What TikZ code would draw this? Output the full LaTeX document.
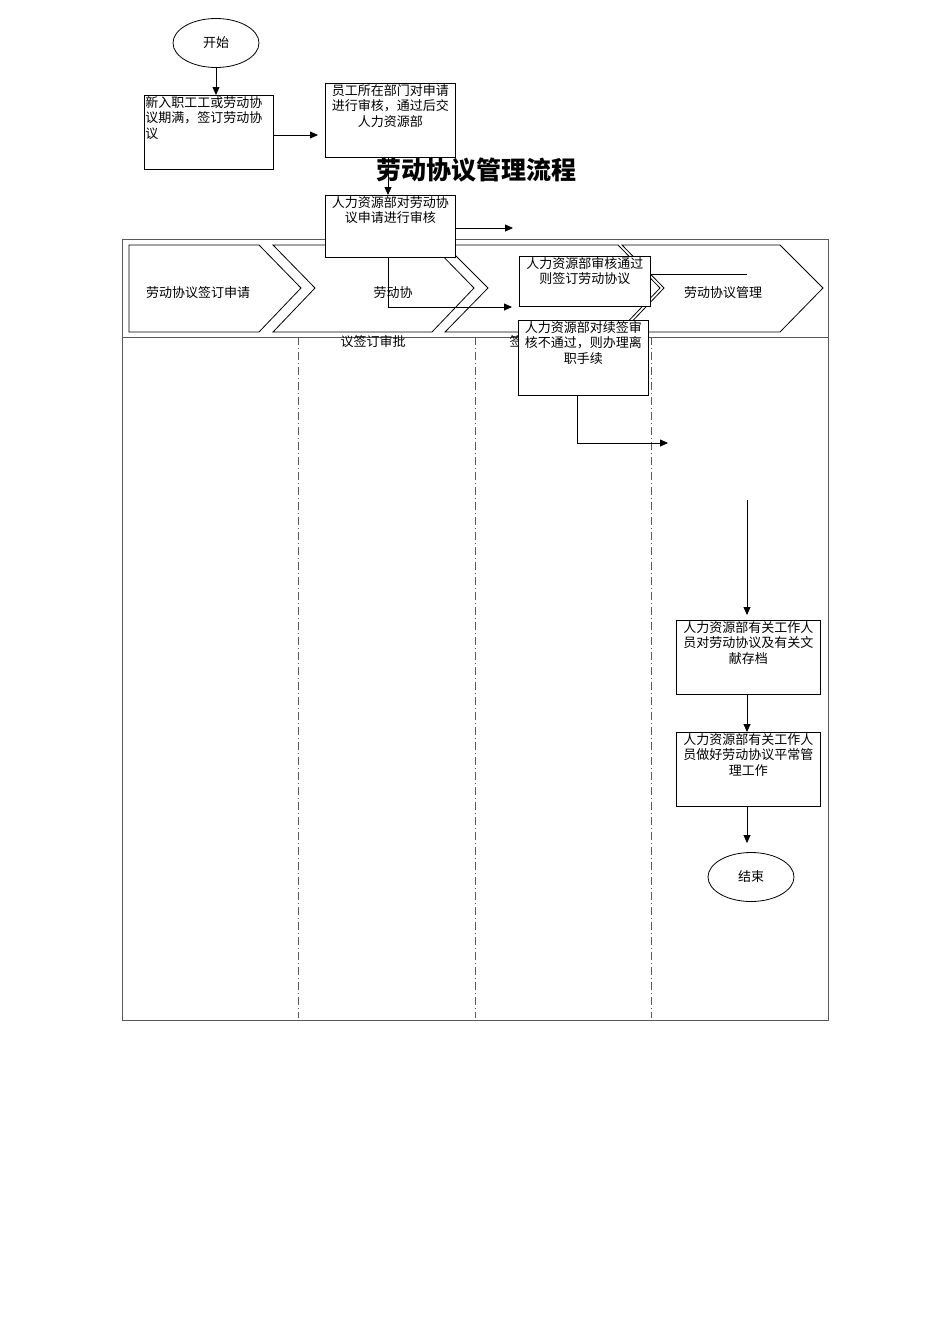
\documentclass[tikz,border=0pt]{standalone}
\usepackage{fontspec}
\setmainfont{Noto Sans CJK SC}
\XeTeXlinebreaklocale "zh"
\XeTeXlinebreakskip=0pt plus 1pt
\usetikzlibrary{shapes.geometric,arrows.meta}
\newcommand{\celltext}[4][c]{\parbox[t][#2][t]{#3}{\raggedright\ifx c#1\centering\fi #4}}
\tikzset{
  box/.style={draw,rectangle,anchor=north west,inner sep=1pt,font=\fontsize{13}{15.5}\selectfont},
  term/.style={draw,ellipse,minimum width=86pt,minimum height=49pt,font=\fontsize{13}{15}\selectfont},
  flow/.style={-{Triangle[length=8pt,width=7pt]}},
  lane/.style={dash pattern=on 8pt off 3pt on 1pt off 3pt,gray!70!black},
  lbl/.style={font=\fontsize{13}{15}\selectfont}
}
\begin{document}
\begin{tikzpicture}[x=1pt,y=-1pt,line width=0.8pt]
\useasboundingbox (0,0) rectangle (950,1344);
% swimlane frame
\draw[gray!70!black] (122,239) rectangle (828,1020);
\draw[gray!70!black] (122,337) -- (828,337);
\foreach \lx in {298,475,651}
  \draw[lane] (\lx,337) -- (\lx,1018);
% stage chevrons
\draw (129,245) -- (259,245) -- (301,288) -- (259,332) -- (129,332) -- cycle;
\draw (273,245) -- (432,245) -- (474,288) -- (432,332) -- (273,332) -- (315,288) -- cycle;
\draw (445,245) -- (618,245) -- (660,288) -- (618,332) -- (445,332) -- (488,288) -- cycle;
\draw (622,245) -- (780,245) -- (823,288) -- (780,332) -- (622,332) -- (664,288) -- cycle;
\node[lbl] (s1) at (198,293) {劳动协议签订申请};
\node[lbl] (s2) at (393,293) {劳动协};
\node[lbl] (s2b) at (373,342) {议签订审批};
\node[lbl] (s3) at (516,341) {签};
\node[lbl] (s4) at (723,293) {劳动协议管理};
% title
\node[font=\bfseries\fontsize{25}{28}\selectfont] (title) at (476,170) {劳动协议管理流程};
% steps
\node[term] (start) at (216,43) {开始};
\node[box] (apply) at (144,95) {\celltext[l]{72pt}{127pt}{新入职工工或劳动协议期满，签订劳动协议}};
\node[box] (dept) at (325,83) {\celltext{72pt}{128pt}{员工所在部门对申请进行审核，通过后交人力资源部}};
\node[box,fill=white] (hr) at (325,195) {\celltext{60pt}{128pt}{人力资源部对劳动协议申请进行审核}};
\node[box,fill=white] (pass) at (519,256) {\celltext{48pt}{129pt}{人力资源部审核通过则签订劳动协议}};
\node[box,fill=white] (fail) at (518,320) {\celltext{73pt}{128pt}{人力资源部对续签审核不通过，则办理离职手续}};
\node[box] (file) at (676,620) {\celltext{72pt}{142pt}{人力资源部有关工作人员对劳动协议及有关文献存档}};
\node[box] (daily) at (676,732) {\celltext{72pt}{142pt}{人力资源部有关工作人员做好劳动协议平常管理工作}};
\node[term] (end) at (751,877) {结束};
% connectors
\coordinate (c1) at (513,228);
\coordinate (c2) at (512,307);
\coordinate (c3) at (747,274);
\coordinate (c4) at (668,443);
\coordinate (c5) at (747,500);
\coordinate (c6) at (747,615);
\coordinate (c7) at (747,843);
\draw[flow] (start) -- (start |- apply.north);
\draw[flow] (apply.east |- 0,135) -- (318,135);
\draw[flow] (dept.south -| 388,0) -- (hr.north -| 388,0);
\draw[flow] (hr.east |- c1) -- (c1);
\draw[flow] (hr.south -| 388,0) -- (388,307) -- (c2);
\draw (pass.east |- c3) -- (c3);
\draw[flow] (fail.south -| 577,0) -- (577,443) -- (c4);
\draw[flow] (c5) -- (c6);
\draw[flow] (file.south -| c6) -- (daily.north -| c6);
\draw[flow] (daily.south -| c7) -- (c7);
\end{tikzpicture}
\end{document}
